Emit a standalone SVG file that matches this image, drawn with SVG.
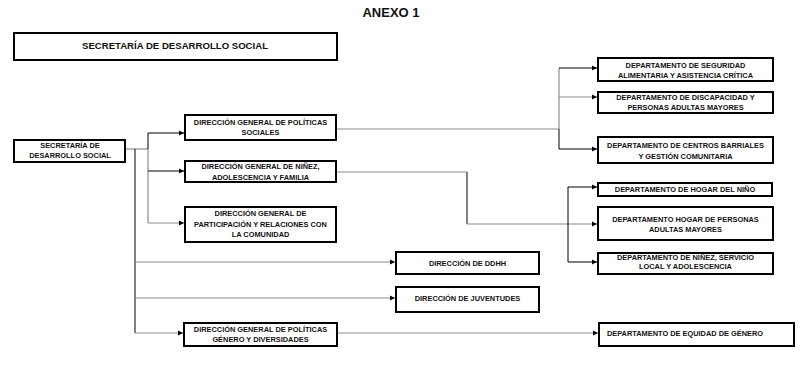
<svg xmlns="http://www.w3.org/2000/svg" width="801" height="385" viewBox="0 0 801 385">
  <style>
    .box { fill: #ffffff; stroke: #000000; stroke-width: 2; }
    .lbl { font-family: "Liberation Sans", Arial, sans-serif; font-weight: bold; font-size: 7.4px; fill: #111111; text-anchor: middle; }
    .ttl { font-family: "Liberation Sans", Arial, sans-serif; font-weight: bold; fill: #111111; text-anchor: middle; }
    .ln { fill: none; stroke: #000000; stroke-width: 1; }
    .lg { fill: none; stroke: #8c8c8c; stroke-width: 1.2; }
  </style>
  <defs>
    <marker id="arr" markerWidth="6" markerHeight="6" refX="5" refY="3" orient="auto" markerUnits="userSpaceOnUse">
      <path d="M0,0.5 L5,3 L0,5.5 Z" fill="#000000"/>
    </marker>
  </defs>
  <rect width="801" height="385" fill="#ffffff"/>

  <text class="ttl" x="391" y="17" font-size="13">ANEXO 1</text>

  <g id="header">
    <rect class="box" x="14" y="33" width="323" height="27"/>
    <text class="ttl" x="175" y="49.3" font-size="9.6">SECRETARÍA DE DESARROLLO SOCIAL</text>
  </g>

  <!-- connectors -->
  <g id="connectors">
    <path class="lg" d="M125,149 H148"/>
    <path class="ln" d="M135,149 V333"/>
    <path class="ln" d="M148,133 V149"/>
    <path class="lg" d="M148,149 V223"/>
    <path class="ln" d="M148,133 H184" marker-end="url(#arr)"/>
    <path class="ln" d="M148,171 H184" marker-end="url(#arr)"/>
    <path class="lg" d="M148,223 H184" marker-end="url(#arr)"/>
    <path class="lg" d="M135,262 H395" marker-end="url(#arr)"/>
    <path class="lg" d="M135,298 H395" marker-end="url(#arr)"/>
    <path class="lg" d="M135,333 H183" marker-end="url(#arr)"/>

    <path class="lg" d="M336,129 H559"/>
    <path class="lg" d="M559,68 V129"/>
    <path class="ln" d="M559,129 V149"/>
    <path class="ln" d="M559,68 H597" marker-end="url(#arr)"/>
    <path class="lg" d="M559,97 H597" marker-end="url(#arr)"/>
    <path class="ln" d="M559,149 H597" marker-end="url(#arr)"/>

    <path class="lg" d="M336,172 H467"/>
    <path class="ln" d="M467,172 V224"/>
    <path class="lg" d="M467,224 H597" marker-end="url(#arr)"/>

    <path class="ln" d="M568,187 V262"/>
    <path class="ln" d="M568,187 H597" marker-end="url(#arr)"/>
    <path class="ln" d="M568,262 H597" marker-end="url(#arr)"/>

    <path class="lg" d="M337,333 H598" marker-end="url(#arr)"/>
  </g>

  <g id="secretaria">
    <rect class="box" x="14" y="140" width="111" height="22"/>
    <text class="lbl" x="70" y="147.8">SECRETARÍA DE</text>
    <text class="lbl" x="70" y="158.3">DESARROLLO SOCIAL</text>
  </g>

  <g id="dg-politicas-sociales">
    <rect class="box" x="185" y="115" width="151" height="25"/>
    <text class="lbl" x="260.5" y="124.6">DIRECCIÓN GENERAL DE POLÍTICAS</text>
    <text class="lbl" x="260.5" y="134.6">SOCIALES</text>
  </g>

  <g id="dg-ninez">
    <rect class="box" x="185" y="161" width="151" height="21"/>
    <text class="lbl" x="260.5" y="169.3">DIRECCIÓN GENERAL DE NIÑEZ,</text>
    <text class="lbl" x="260.5" y="179.9">ADOLESCENCIA Y FAMILIA</text>
  </g>

  <g id="dg-participacion">
    <rect class="box" x="185" y="207" width="151" height="35"/>
    <text class="lbl" x="260.5" y="215.9">DIRECCIÓN GENERAL DE</text>
    <text class="lbl" x="260.5" y="226.6">PARTICIPACIÓN Y RELACIONES CON</text>
    <text class="lbl" x="260.5" y="236.6">LA COMUNIDAD</text>
  </g>

  <g id="dir-ddhh">
    <rect class="box" x="396" y="252" width="143" height="22"/>
    <text class="lbl" x="467.5" y="265.6">DIRECCIÓN DE DDHH</text>
  </g>

  <g id="dir-juventudes">
    <rect class="box" x="396" y="287" width="143" height="25"/>
    <text class="lbl" x="467.5" y="301.3">DIRECCIÓN DE JUVENTUDES</text>
  </g>

  <g id="dg-genero">
    <rect class="box" x="184" y="323" width="153" height="23"/>
    <text class="lbl" x="260.5" y="331.9">DIRECCIÓN GENERAL DE POLÍTICAS</text>
    <text class="lbl" x="260.5" y="341.9">GÉNERO Y DIVERSIDADES</text>
  </g>

  <g id="dep-seguridad">
    <rect class="box" x="598" y="58" width="175" height="23"/>
    <text class="lbl" x="685.5" y="67.6">DEPARTAMENTO DE SEGURIDAD</text>
    <text class="lbl" x="685.5" y="77.6">ALIMENTARIA Y ASISTENCIA CRÍTICA</text>
  </g>

  <g id="dep-discapacidad">
    <rect class="box" x="598" y="92" width="175" height="21"/>
    <text class="lbl" x="685.5" y="100.3">DEPARTAMENTO DE DISCAPACIDAD Y</text>
    <text class="lbl" x="685.5" y="109.9">PERSONAS ADULTAS MAYORES</text>
  </g>

  <g id="dep-centros">
    <rect class="box" x="598" y="137" width="175" height="26"/>
    <text class="lbl" x="685.5" y="147.6">DEPARTAMENTO DE CENTROS BARRIALES</text>
    <text class="lbl" x="685.5" y="159.3">Y GESTIÓN COMUNITARIA</text>
  </g>

  <g id="dep-hogar-nino">
    <rect class="box" x="598" y="183" width="174" height="13"/>
    <text class="lbl" x="685" y="191.9">DEPARTAMENTO DE HOGAR DEL NIÑO</text>
  </g>

  <g id="dep-hogar-mayores">
    <rect class="box" x="598" y="207" width="175" height="33"/>
    <text class="lbl" x="685.5" y="221.6">DEPARTAMENTO HOGAR DE PERSONAS</text>
    <text class="lbl" x="685.5" y="231.6">ADULTAS MAYORES</text>
  </g>

  <g id="dep-ninez-servicio">
    <rect class="box" x="598" y="253" width="175" height="21"/>
    <text class="lbl" x="685.5" y="259.9">DEPARTAMENTO DE NIÑEZ, SERVICIO</text>
    <text class="lbl" x="685.5" y="269.3">LOCAL Y ADOLESCENCIA</text>
  </g>

  <g id="dep-equidad">
    <rect class="box" x="599" y="323" width="195" height="23"/>
    <text class="lbl" x="685" y="335.9">DEPARTAMENTO DE EQUIDAD DE GÉNERO</text>
  </g>
</svg>
